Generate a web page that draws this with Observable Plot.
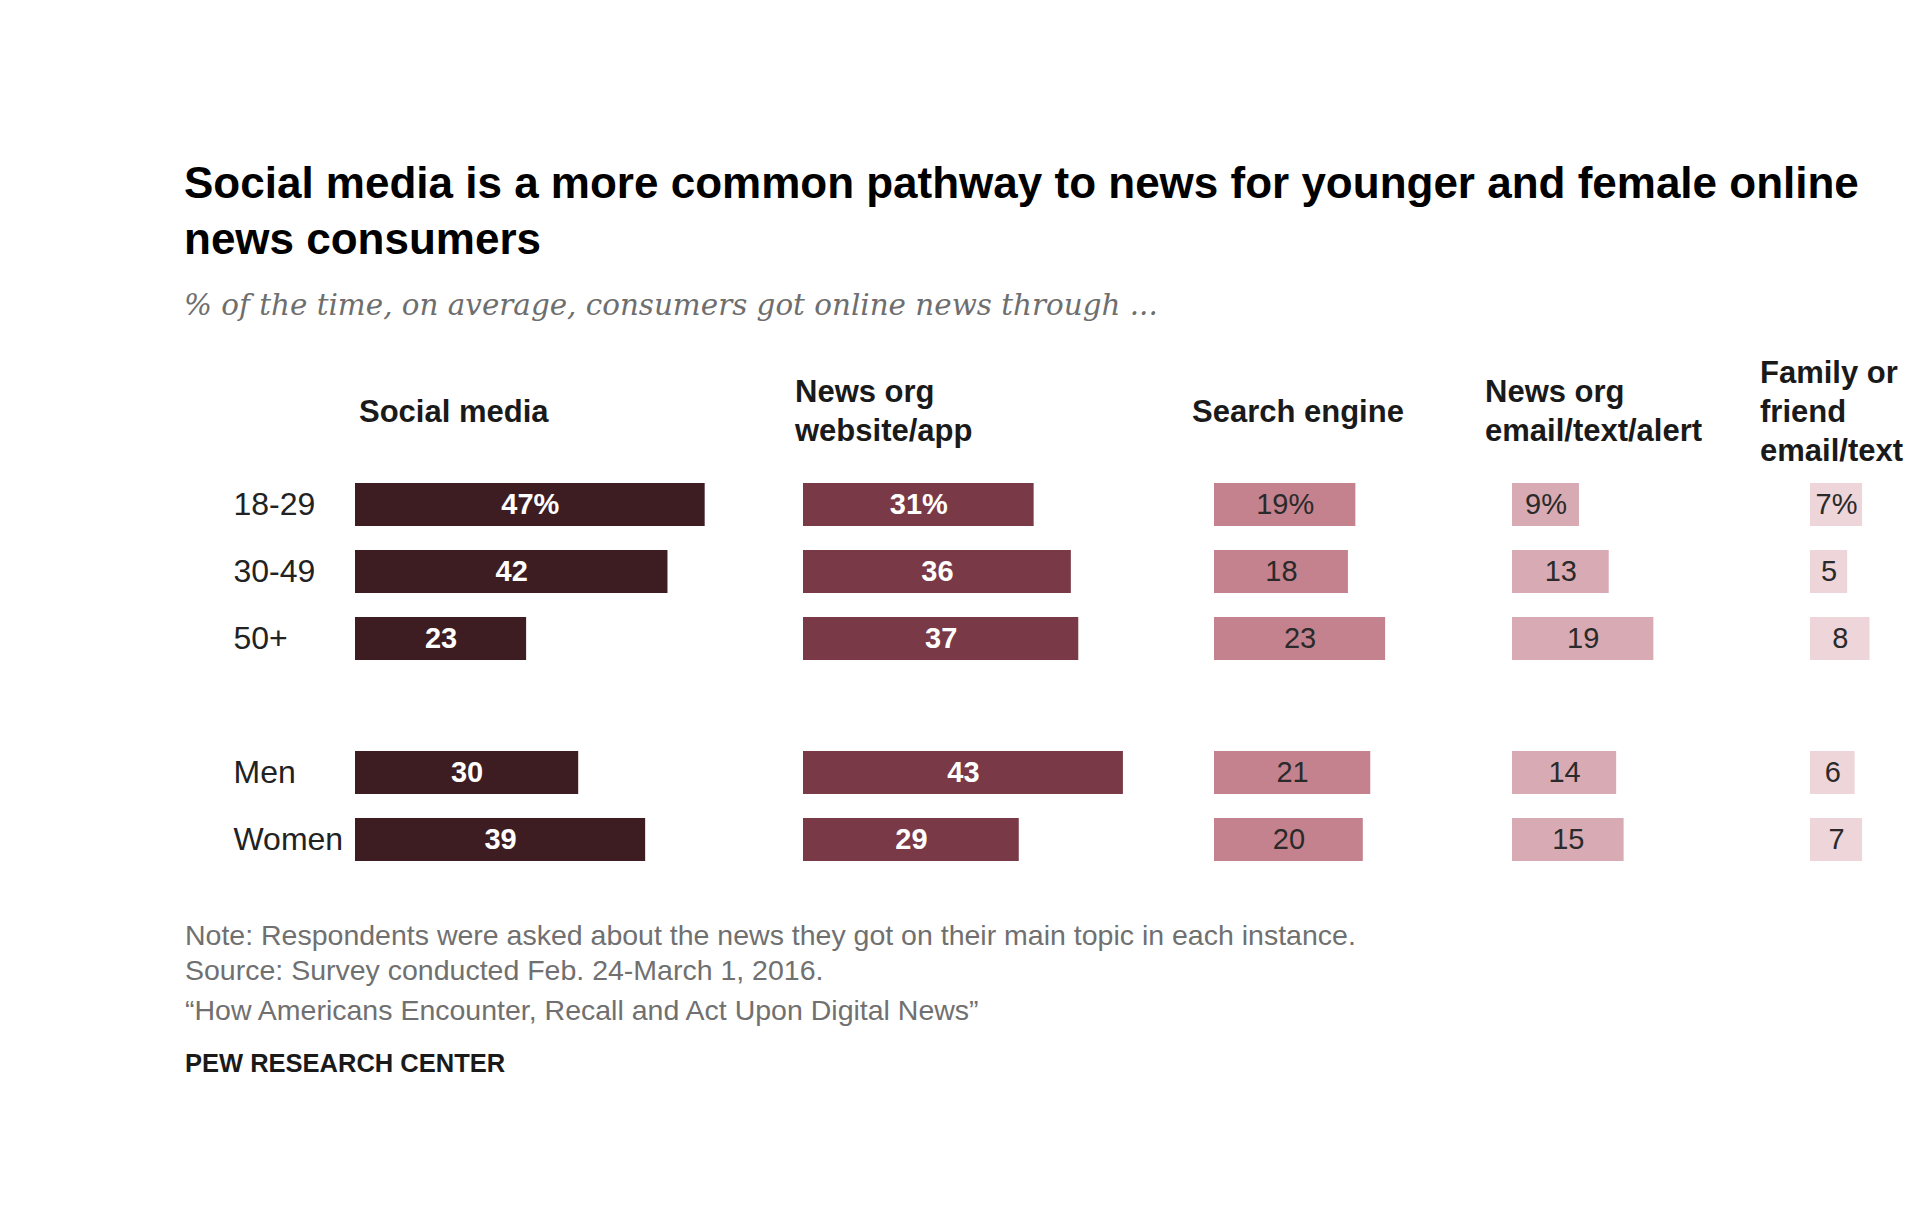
<!DOCTYPE html>
<html><head><meta charset="utf-8">
<script src="https://cdn.jsdelivr.net/npm/d3@7"></script>
<script src="https://cdn.jsdelivr.net/npm/@observablehq/plot@0.6"></script>
<style>
body{margin:0;background:#fff;}
#root{position:relative;width:1926px;height:1227px;overflow:hidden;background:#fff;font-family:"Liberation Sans",Arial,sans-serif;}
.abs{position:absolute;white-space:nowrap;}
</style></head><body><div id="root"></div>
<script>
const groups = ["18-29", "30-49", "50+", "Men", "Women"];
const rowOrder = ["18-29", "30-49", "50+", " ", "Men", "Women"];
const socialMedia = [47, 42, 23, 30, 39];
const newsOrgWebsite = [31, 36, 37, 43, 29];
const searchEngine = [19, 18, 23, 21, 20];
const newsOrgEmail = [9, 13, 19, 14, 15];
const familyFriend = [7, 5, 8, 6, 7];
const headers = [["Social media"], ["News org", "website/app"], ["Search engine"], ["News org", "email/text/alert"], ["Family or", "friend", "email/text"]];
const titleText = "Social media is a more common pathway to news for younger and female online news consumers";
const subtitleText = "% of the time, on average, consumers got online news through ...";
const notes = ["Note: Respondents were asked about the news they got on their main topic in each instance.", "Source: Survey conducted Feb. 24-March 1, 2016.", "\u201cHow Americans Encounter, Recall and Act Upon Digital News\u201d"];
const credit = "PEW RESEARCH CENTER";

const series = [socialMedia, newsOrgWebsite, searchEngine, newsOrgEmail, familyFriend];
const fills = ["#3d1d22", "#7a3946", "#c4828e", "#d8aab4", "#edd5da"];
const labelFills = ["#ffffff", "#ffffff", "#2a2a2a", "#2a2a2a", "#2a2a2a"];
const labelWeights = ["bold", "bold", "normal", "normal", "normal"];
const panelLeft = [355, 803, 1214, 1512, 1810];
const headerLeft = [359, 795, 1192, 1485, 1760];
const pxPerUnit = 7.44;
const root = document.getElementById("root");
const SANS = '"Liberation Sans", Arial, sans-serif';

function addDiv(html, css) {
  const d = document.createElement("div");
  d.className = "abs";
  d.innerHTML = html;
  Object.assign(d.style, css);
  root.appendChild(d);
  return d;
}

addDiv(titleText.replace(" news consumers", "<br>news consumers"), {left: "184px", top: "155px", fontSize: "44px", fontWeight: "bold", lineHeight: "56px", color: "#000"});
addDiv(subtitleText, {left: "184px", top: "286px", fontSize: "29.4px", fontStyle: "italic", fontFamily: '"DejaVu Serif", Georgia, serif', color: "#6e6e6e", lineHeight: "38px"});

headers.forEach((lines, i) => {
  const lh = 39.3;
  const top = 411.5 - lines.length * lh / 2;
  addDiv(lines.join("<br>"), {left: headerLeft[i] + "px", top: top + "px", fontSize: "31px", fontWeight: "bold", lineHeight: lh + "px", color: "#1a1a1a"});
});

series.forEach((vals, i) => {
  const data = groups.map((g, j) => ({group: g, value: vals[j], label: j === 0 ? vals[j] + "%" : String(vals[j])}));
  const ml = i === 0 ? 122 : 0;
  const marks = [
    Plot.barX(data, {x: "value", y: "group", fill: fills[i], insetTop: 12, insetBottom: 12}),
    Plot.text(data, {x: d => d.value / 2, y: "group", text: "label", fill: labelFills[i], fontSize: 29, fontWeight: labelWeights[i]})
  ];
  if (i === 0) marks.push(Plot.text(groups, {y: d => d, text: d => d, frameAnchor: "left", textAnchor: "start", dx: -122, fontSize: 32, fill: "#222"}));
  const svg = Plot.plot({
    width: ml + 50 * pxPerUnit, height: 6 * 67.2,
    marginLeft: ml, marginRight: 0, marginTop: 0, marginBottom: 0,
    x: {domain: [0, 50], axis: null},
    y: {domain: rowOrder, padding: 0, axis: null},
    style: {background: "transparent", fontFamily: SANS, overflow: "visible"},
    marks
  });
  svg.style.position = "absolute";
  svg.style.left = (panelLeft[i] - ml) + "px";
  svg.style.top = "470px";
  root.appendChild(svg);
});

const noteTops = [934.7, 970.4, 1009.7];
notes.forEach((t, i) => addDiv(t, {left: "185px", top: (noteTops[i] - 16) + "px", fontSize: "28.5px", lineHeight: "32px", color: "#707070"}));
addDiv(credit, {left: "185px", top: (1062.5 - 16) + "px", fontSize: "25.5px", lineHeight: "32px", fontWeight: "bold", color: "#1a1a1a"});
</script></body></html>
